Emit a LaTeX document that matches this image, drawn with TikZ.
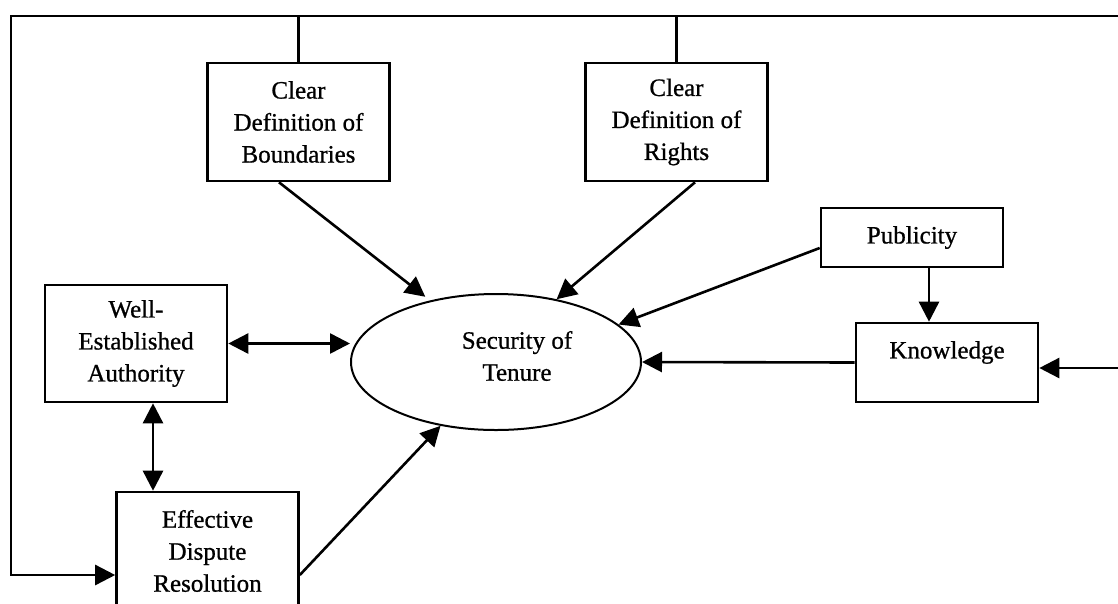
\documentclass[tikz,border=0pt]{standalone}
\usepackage{fontspec}
\setmainfont{Liberation Serif}
\newfontfamily\printfont[FakeBold=0.8]{Liberation Serif}
\usetikzlibrary{arrows.meta,shapes.geometric}
\begin{document}
\begin{tikzpicture}[x=1pt,y=-1pt,
  line width=2.6pt, line join=miter,
  txt/.style={font=\printfont\fontsize{25}{32}\selectfont, align=center},
  box/.style={draw, rectangle, txt, inner sep=0pt,
    minimum width=182pt, minimum height=118pt},
  arr/.style={-{Triangle[length=20pt,width=20pt]}},
  darr/.style={{Triangle[length=20pt,width=20pt]}-{Triangle[length=20pt,width=20pt]}},
]
\useasboundingbox (0,0) rectangle (1118,603);
\clip (0,0) rectangle (1118,603);

% factor boxes
\node[box] (bnd) at (298.5,122) {Clear\\Definition of\\Boundaries};
\node[box] (rgt) at (676.5,122) {Clear\\Definition of\\Rights};
\node[box, minimum height=59pt] (pub) at (912,237.5) {Publicity};
\node[box, minimum height=79pt,
  label={[txt, yshift=10pt]center:Knowledge}] (kno) at (947,362.5) {};
\node[box, minimum height=117pt] (wea) at (136,343.5) {Well-\\Established\\Authority};
\node[box] (edr) at (207.5,551) {Effective\\Dispute\\Resolution};

% central outcome
\node[draw, ellipse, line width=2pt, minimum width=290pt, minimum height=136pt,
  inner sep=0pt,
  label={[txt, xshift=21pt, yshift=6pt]center:{Security of\\Tenure}}] (sec) at (496,362) {};

% feedback loop along the top and left
\coordinate (topR) at (1118,16);
\coordinate (topL) at (11,16);
\coordinate (botL) at (11,575);
\coordinate (kin) at (1118,368);

\draw[arr] (topR) -- (topL) -- (botL) -- (botL -| edr.west);
\draw (bnd.north) -- (bnd.north |- topL);
\draw (rgt.north) -- (rgt.north |- topL);
\draw[arr] (kin) -- (kin -| kno.east);

% influences on security of tenure
\draw[arr] ([xshift=17pt]pub.south) -- ([xshift=17pt]pub.south |- kno.north);
\draw[arr] (kno.west) -- (sec.east);
\draw[arr, shorten >=6pt] ([xshift=-19.5pt]bnd.south) -- (sec.137);
\draw[arr] ([xshift=18.5pt]rgt.south) -- (sec.46);
\draw[arr] ([yshift=-10.5pt]pub.west) -- (sec.17.5);
\draw[darr] (wea.east) -- (wea.east -| sec.west);
\draw[darr] ([xshift=17pt]wea.south) -- ([xshift=17pt]wea.south |- edr.north);
\draw[arr] (botL -| edr.east) -- (sec.229);
\end{tikzpicture}
\end{document}
